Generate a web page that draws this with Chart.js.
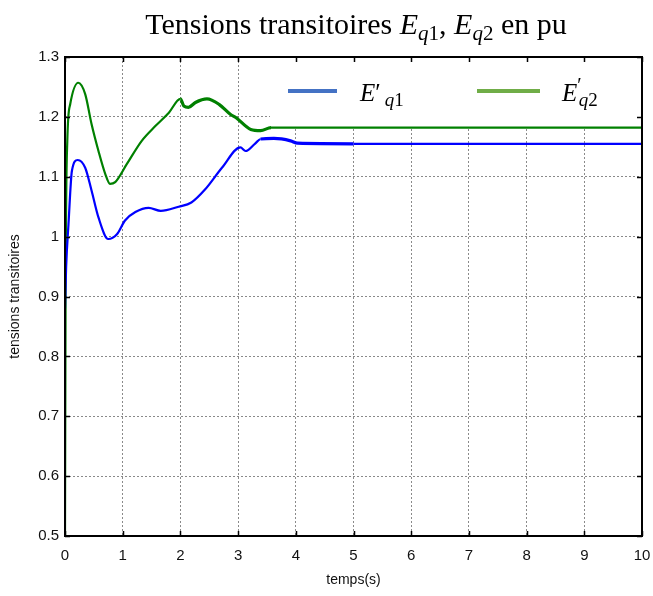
<!DOCTYPE html>
<html>
<head>
<meta charset="utf-8">
<script src="https://cdn.jsdelivr.net/npm/chart.js@4.4.0/dist/chart.umd.min.js"></script>
<style>
html, body { margin: 0; background: #fff; }
#wrap { width: 653px; height: 596px; }
</style>
</head>
<body>
<div id="wrap"><canvas id="c"></canvas></div>
<script>
// values
const tQ1 = [0, 0.02, 0.06, 0.12, 0.22, 0.35, 0.46, 0.58, 0.75, 0.9, 1.04, 1.22, 1.45, 1.66, 1.97, 2.19, 2.43, 2.72, 3.04, 3.13, 3.29, 3.39, 3.62, 3.91, 4.03, 5, 6, 7, 8, 9, 10];
const vQ1 = [0.88, 0.95, 1.02, 1.11, 1.128, 1.115, 1.077, 1.032, 0.996, 1.004, 1.027, 1.041, 1.048, 1.043, 1.05, 1.057, 1.079, 1.115, 1.149, 1.143, 1.155, 1.163, 1.164, 1.16, 1.156, 1.155, 1.155, 1.155, 1.155, 1.155, 1.155];

const tQ2 = [0, 0.01, 0.04, 0.09, 0.23, 0.35, 0.46, 0.58, 0.7, 0.78, 0.87, 1.07, 1.33, 1.57, 1.8, 2.0, 2.06, 2.14, 2.26, 2.46, 2.67, 2.87, 2.96, 3.22, 3.39, 3.57, 4, 5, 6, 7, 8, 9, 10];
const vQ2 = [0.5, 0.9, 1.16, 1.221, 1.257, 1.238, 1.188, 1.143, 1.104, 1.088, 1.091, 1.121, 1.16, 1.185, 1.207, 1.23, 1.218, 1.216, 1.224, 1.23, 1.221, 1.204, 1.199, 1.179, 1.177, 1.182, 1.182, 1.182, 1.182, 1.182, 1.182, 1.182, 1.182];

const xTicks = [0, 1, 2, 3, 4, 5, 6, 7, 8, 9, 10];
const yTicks = [0.5, 0.6, 0.7, 0.8, 0.9, 1, 1.1, 1.2, 1.3];

const toPts = (t, v) => t.map((x, i) => ({ x: x, y: v[i] }));

// draw a row of text runs (italic, subscripts...) centred or from a left x
function drawRuns(ctx, runs, x, base, center) {
  let w = 0;
  runs.forEach(r => { ctx.font = r.font; w += ctx.measureText(r.text).width + (r.gap || 0); });
  let cx = center ? x - w / 2 : x;
  ctx.textBaseline = 'alphabetic';
  ctx.textAlign = 'left';
  ctx.fillStyle = '#000';
  runs.forEach(r => {
    ctx.font = r.font;
    ctx.fillText(r.text, cx, base + (r.dy || 0));
    cx += ctx.measureText(r.text).width + (r.gap || 0);
  });
}

const serif = '"Liberation Serif", "Times New Roman", serif';
const F = 'italic 25px ' + serif;
const FS = 'italic 19px ' + serif;
const FN = '19px ' + serif;

const decor = {
  id: 'decor',
  beforeDatasetsDraw(chart) {
    const ctx = chart.ctx, a = chart.chartArea;
    // legend box hides the grid under it
    ctx.save();
    ctx.fillStyle = '#fff';
    ctx.fillRect(270, a.top + 1, a.right - 271, 70);
    ctx.restore();
  },
  afterDatasetsDraw(chart) {
    const ctx = chart.ctx, a = chart.chartArea;
    const xs = chart.scales.x, ys = chart.scales.y;
    ctx.save();
    ctx.strokeStyle = '#000';
    ctx.lineWidth = 1.5;
    ctx.beginPath();
    xTicks.forEach(v => {
      const px = Math.round(xs.getPixelForValue(v)) + 0.5;
      ctx.moveTo(px, a.bottom); ctx.lineTo(px, a.bottom - 5);
      ctx.moveTo(px, a.top); ctx.lineTo(px, a.top + 5);
    });
    yTicks.forEach(v => {
      const py = Math.round(ys.getPixelForValue(v)) + 0.5;
      ctx.moveTo(a.left, py); ctx.lineTo(a.left + 5, py);
      ctx.moveTo(a.right, py); ctx.lineTo(a.right - 5, py);
    });
    ctx.stroke();
    ctx.lineWidth = 2;
    ctx.strokeRect(a.left, a.top, a.right - a.left, a.bottom - a.top);

    // legend
    const sets = chart.data.datasets;
    ctx.lineWidth = 4;
    ctx.strokeStyle = sets[0].legendColor;
    ctx.beginPath(); ctx.moveTo(288, 91); ctx.lineTo(337, 91); ctx.stroke();
    ctx.strokeStyle = sets[1].legendColor;
    ctx.beginPath(); ctx.moveTo(477, 91); ctx.lineTo(540, 91); ctx.stroke();
    drawRuns(ctx, [
      { text: 'E', font: F },
      { text: '\u2032', font: '25px ' + serif, gap: 4 },
      { text: 'q', font: FS, dy: 5 },
      { text: '1', font: FN, dy: 5 }
    ], 360, 101, false);
    drawRuns(ctx, [
      { text: 'E', font: F },
      { text: '\u2032', font: '20px ' + serif, dy: -9, gap: -3 },
      { text: 'q', font: FS, dy: 5 },
      { text: '2', font: FN, dy: 5 }
    ], 562, 101, false);

    // title
    drawRuns(ctx, [
      { text: 'Tensions transitoires ', font: '30px ' + serif },
      { text: 'E', font: 'italic 30px ' + serif },
      { text: 'q', font: 'italic 21px ' + serif, dy: 6 },
      { text: '1', font: '21px ' + serif, dy: 6 },
      { text: ', ', font: '30px ' + serif },
      { text: 'E', font: 'italic 30px ' + serif },
      { text: 'q', font: 'italic 21px ' + serif, dy: 6 },
      { text: '2', font: '21px ' + serif, dy: 6 },
      { text: ' en pu', font: '30px ' + serif }
    ], 356, 34, true);
    ctx.restore();
  }
};

const tickFont = { family: '"Liberation Sans", Arial, sans-serif', size: 15 };
const axisFont = { family: '"Liberation Sans", Arial, sans-serif', size: 14 };

// thicker stroke where the simulated trace is noisy
const noisy = (from, to) => c => (c.p0.parsed.x >= from && c.p1.parsed.x <= to ? 3.2 : 2.2);

new Chart(document.getElementById('c'), {
  type: 'line',
  data: {
    datasets: [{
      label: "E'q1",
      data: toPts(tQ1, vQ1),
      borderColor: '#0000ff',
      legendColor: '#4472c4',
      borderWidth: 2.2,
      segment: { borderWidth: noisy(3.3, 5) },
      pointRadius: 0,
      cubicInterpolationMode: 'monotone'
    }, {
      label: "E'q2",
      data: toPts(tQ2, vQ2),
      borderColor: '#008000',
      legendColor: '#70ad47',
      borderWidth: 2.2,
      segment: { borderWidth: noisy(2.0, 3.6) },
      pointRadius: 0,
      cubicInterpolationMode: 'monotone'
    }]
  },
  options: {
    responsive: true,
    maintainAspectRatio: false,
    animation: false,
    layout: { padding: { top: 57, right: 11, left: 0, bottom: 0 } },
    plugins: { legend: { display: false }, tooltip: { enabled: false } },
    scales: {
      x: {
        type: 'linear',
        min: 0, max: 10,
        afterFit: s => { s.height = 60; s.paddingLeft = 0; s.paddingRight = 0; },
        afterBuildTicks: s => { s.ticks = xTicks.map(v => ({ value: v })); },
        ticks: { font: tickFont, color: '#111', padding: 11, maxRotation: 0 },
        grid: { color: '#8a8a8a', lineWidth: 1, drawTicks: false },
        border: { display: false, dash: [2, 2] },
        title: { display: true, text: 'temps(s)', font: axisFont, color: '#111', padding: { top: 0, bottom: 7 } }
      },
      y: {
        min: 0.5, max: 1.3,
        afterFit: s => { s.width = 65; s.paddingTop = 0; s.paddingBottom = 0; },
        afterBuildTicks: s => { s.ticks = yTicks.map(v => ({ value: v })); },
        ticks: { font: tickFont, color: '#111', padding: 6, callback: v => String(Math.round(v * 10) / 10) },
        grid: { color: '#8a8a8a', lineWidth: 1, drawTicks: false },
        border: { display: false, dash: [2, 2] },
        title: { display: true, text: 'tensions transitoires', font: axisFont, color: '#111', padding: { top: 7, bottom: 0 } }
      }
    }
  },
  plugins: [decor]
});
</script>
</body>
</html>
